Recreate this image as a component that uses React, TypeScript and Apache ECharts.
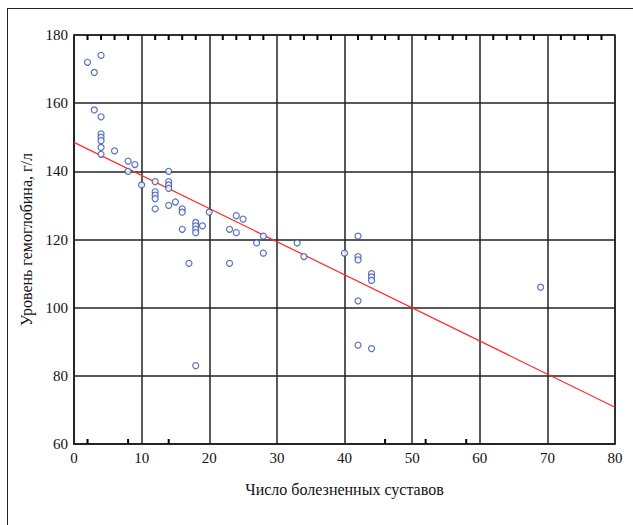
import React, { useEffect, useRef } from "react";
import * as echarts from "echarts";

const jointsX = [2, 3, 4, 3, 4, 4, 4, 4, 4, 4, 6, 8, 9, 8, 10, 12, 12, 12, 12, 12, 14, 14, 14, 14, 14, 15, 16, 16, 16, 18, 18, 18, 18, 19, 20, 17, 18, 23, 24, 24, 25, 23, 27, 28, 28, 33, 34, 40, 42, 42, 42, 42, 42, 44, 44, 44, 44, 69];
const hemoglobinY = [172, 169, 174, 158, 156, 151, 150, 149, 147, 145, 146, 143, 142, 140, 136, 137, 134, 133, 132, 129, 140, 137, 136, 135, 130, 131, 129, 128, 123, 125, 124, 123, 122, 124, 128, 113, 83, 123, 122, 127, 126, 113, 119, 121, 116, 119, 115, 116, 121, 115, 114, 102, 89, 110, 109, 108, 88, 106];
const fitX = [0, 80];
const fitY = [148.5, 70.8];
const topMinorTicks = [2, 4, 6, 8, 12, 14, 16, 18, 22, 24, 26, 28, 32, 34, 36, 38, 42, 44, 46, 48, 52, 54, 56, 58, 62, 64, 66, 68, 72, 74, 76, 78];
const bottomMinorTicks = [2, 8, 14, 46, 52, 58];

const xTitle = "Число болезненных суставов";
const yTitle = "Уровень гемоглобина, г/л";

const FONT = "'Liberation Serif', 'DejaVu Serif', serif";

export default function App() {
  const ref = useRef<HTMLDivElement>(null);
  useEffect(() => {
    const chart = echarts.init(ref.current!, null, { renderer: "svg" });
    const points = jointsX.map((x, i) => [x, hemoglobinY[i]]);
    const line = fitX.map((x, i) => [x, fitY[i]]);
    chart.setOption({
      animation: false,
      backgroundColor: "#fff",
      textStyle: { fontFamily: FONT },
      grid: {
        left: 74,
        right: 18,
        top: 35,
        bottom: 81,
        show: true,
        borderColor: "#222",
        borderWidth: 1.5,
      },
      xAxis: {
        type: "value",
        min: 0,
        max: 80,
        interval: 10,
        position: "bottom",
        name: xTitle,
        nameLocation: "middle",
        nameGap: 37,
        nameTextStyle: { fontFamily: FONT, fontSize: 16, color: "#111" },
        axisLine: { show: true, lineStyle: { color: "#222", width: 1.5 } },
        axisTick: { show: false },
        axisLabel: { fontFamily: FONT, fontSize: 15, color: "#111", margin: 6 },
        splitLine: { show: true, lineStyle: { color: "#222", width: 1.5 } },
      },
      yAxis: {
        type: "value",
        min: 60,
        max: 180,
        interval: 20,
        name: yTitle,
        nameLocation: "middle",
        nameGap: 40,
        nameTextStyle: { fontFamily: FONT, fontSize: 16, color: "#111" },
        axisLine: { show: true, lineStyle: { color: "#222", width: 1.5 } },
        axisTick: { show: false },
        axisLabel: { fontFamily: FONT, fontSize: 15, color: "#111", margin: 6 },
        splitLine: { show: true, lineStyle: { color: "#222", width: 1.5 } },
      },
      graphic: [
        { type: "line", shape: { x1: 7, y1: 8.5, x2: 633, y2: 8.5 }, style: { stroke: "#222", lineWidth: 1 } },
        { type: "line", shape: { x1: 7.5, y1: 8, x2: 7.5, y2: 525 }, style: { stroke: "#222", lineWidth: 1 } },
      ],
      series: [
        {
          type: "scatter",
          data: topMinorTicks.map((x) => [x, 180]),
          symbol: "rect",
          symbolSize: [2, 5],
          symbolOffset: [0, 2.5],
          itemStyle: { color: "#000", opacity: 1 },
          silent: true,
          clip: false,
          z: 5,
        },
        {
          type: "scatter",
          data: bottomMinorTicks.map((x) => [x, 60]),
          symbol: "rect",
          symbolSize: [2, 5],
          symbolOffset: [0, -2.5],
          itemStyle: { color: "#000", opacity: 1 },
          silent: true,
          clip: false,
          z: 5,
        },
        {
          type: "line",
          data: line,
          showSymbol: false,
          lineStyle: { color: "#ff2a2a", width: 1.2 },
          z: 3,
        },
        {
          type: "scatter",
          data: points,
          symbol: "circle",
          symbolSize: 6,
          itemStyle: { color: "#fff", borderColor: "#2f4fa8", borderWidth: 1.2 },
          z: 4,
        },
      ],
    });
    return () => chart.dispose();
  }, []);
  return <div ref={ref} style={{ width: 633, height: 525, position: "absolute", left: 0, top: 0 }} />;
}
